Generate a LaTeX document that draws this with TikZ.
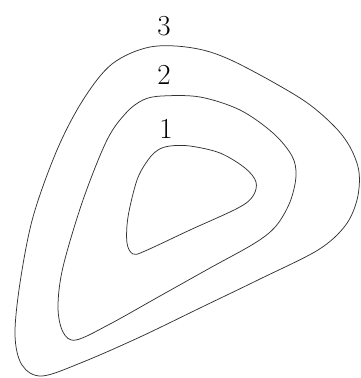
\documentclass[tikz,border=0pt]{standalone}
\begin{document}
\begin{tikzpicture}[x=1pt,y=-1pt,
  contour/.style={draw=black!80,line width=0.75pt},
  lbl/.style={inner sep=0pt,font=\fontsize{29}{33}\selectfont}]
\useasboundingbox (0,0) rectangle (361,378);
% outer curve 3
\draw[contour] plot[smooth cycle,tension=0.55] coordinates {
 (150,47) (193,48) (233,61) (300,98) (333,125) (350,147) (359,172) (357,200) (345,226) (318,250)
 (260,279) (200,308) (140,337) (83,362) (42,376) (22,365) (15,335) (20,283) (33,217) (57,150) (83,100) (112,64) };
% middle curve 2
\draw[contour] plot[smooth cycle,tension=0.55] coordinates {
 (162,96) (200,97) (240,110) (273,133) (292,156) (296,176) (290,202) (276,226) (255,243)
 (210,268) (160,296) (110,324) (76,340) (63,332) (58,307) (63,267) (83,200) (107,140) (126,113) (143,100) };
% inner curve 1
\draw[contour] plot[smooth cycle,tension=0.55] coordinates {
 (170,146) (190,146) (220,153) (245,168) (256,182) (253,196) (238,208)
 (190,230) (145,251) (133,254) (127,243) (128,217) (137,180) (148,160) (158,150) };
\node[lbl] (l3) at (164,26) {3};
\node[lbl] (l2) at (164,75) {2};
\node[lbl] (l1) at (166,129) {1};
\end{tikzpicture}
\end{document}
